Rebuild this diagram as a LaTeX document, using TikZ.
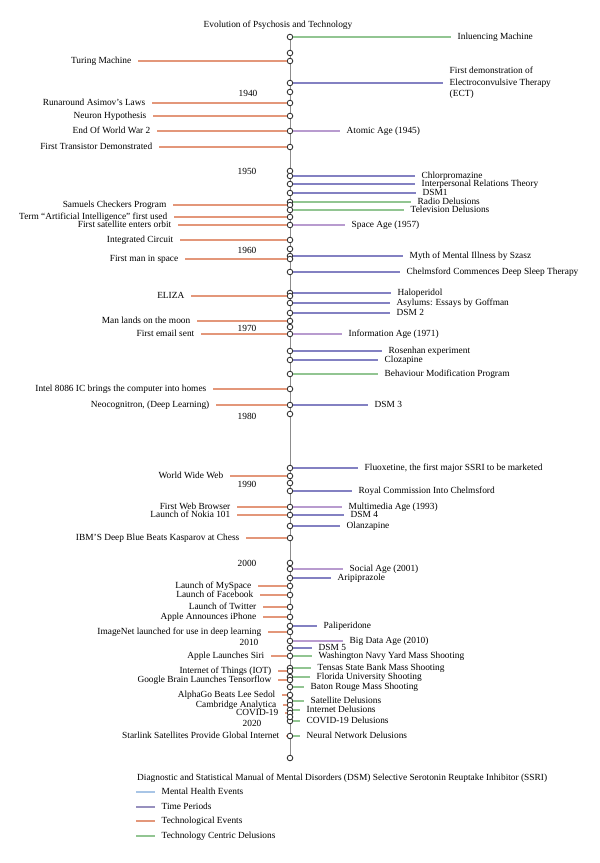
\documentclass[tikz,border=0pt]{standalone}
\usepackage{fontspec}
\setmainfont{Liberation Serif}
\definecolor{cOrange}{HTML}{E3977A}
\definecolor{cMH}{HTML}{8381C2}
\definecolor{cTP}{HTML}{B89BCF}
\definecolor{cGreen}{HTML}{92C592}
\definecolor{cLegBlue}{HTML}{A8C5E6}
\definecolor{cLegPurple}{HTML}{9790BE}
\tikzset{
  dot/.style={circle,draw=black!80,fill=white,line width=0.85bp,minimum size=5.6bp,inner sep=0pt},
  axisline/.style={draw=black!45,line width=0.7bp},
  lab/.style={font=\fontsize{9.4}{11}\selectfont,inner xsep=6.5bp,inner ysep=0pt,text height=6.5pt,text depth=2pt},
  yearlab/.style={font=\fontsize{9.4}{11}\selectfont,inner sep=0pt},
  evte/.style={draw=cOrange,line width=1.5bp},
  evmh/.style={draw=cMH,line width=1.5bp},
  evtp/.style={draw=cTP,line width=1.5bp},
  evtc/.style={draw=cGreen,line width=1.5bp},
}
\begin{document}
\begin{tikzpicture}[x=1bp,y=-1bp]
\useasboundingbox (0,0) rectangle (600,863);
\node[yearlab] (title) at (278,25) {Evolution of Psychosis and Technology};
\coordinate (axtop) at (290,37);
\coordinate (axbot) at (290,758);
\draw[axisline] (axtop) -- (axbot);
% circles on the axis
\foreach \i/\y in {0/37,1/53,2/61,3/83,4/92,5/103,6/116,7/131,8/147,9/171,10/176,11/184,12/193,13/202,14/205,15/210,16/217,17/225,18/240,19/249,20/256,21/259,22/272,23/293,24/296,25/303,26/313,27/321,28/327,29/334,30/351,31/360,32/374,33/389,34/405,35/414,36/468,37/476,38/483,39/491,40/507,41/515,42/526,43/538,44/563,45/569,46/578,47/586,48/595,49/607,50/617,51/626,52/632,53/641,54/648,55/656,56/668,57/671,58/677,59/680,60/687,61/695,62/701,63/705,64/710,65/713,66/721,67/717,68/736,69/758}
  \node[dot] (c\i) at (290,\y) {};
% year labels
\foreach \i/\x/\y/\t in {4/248/93/1940,9/247/171/1950,19/247/250/1960,28/247/328/1970,35/247/416/1980,38/247/484/1990,44/247/563/2000,53/249/642/2010,67/252/723/2020}
  \node[yearlab] (yr\i) at (\x,\y) {\t};
% technological events (left)
\foreach \i/\y/\x/\t in {2/61/138/Turing Machine,5/103/152/Runaround Asimov’s Laws,6/116/153/Neuron Hypothesis,7/131/157/End Of World War 2,8/147/159/First Transistor Demonstrated,14/205/173/Samuels Checkers Program,16/217/174/Term “Artificial Intelligence” first used,17/225/178/First satellite enters orbit,18/240/180/Integrated Circuit,21/259/185/First man in space,24/296/191/ELIZA,27/321/197/Man lands on the moon,29/334/201/First email sent,33/389/213/Intel 8086 IC brings the computer into homes,34/405/216/{Neocognitron, (Deep Learning)},37/476/230/World Wide Web,40/507/237/First Web Browser,41/515/237/Launch of Nokia 101,43/538/246/IBM’S Deep Blue Beats Kasparov at Chess,47/586/258/Launch of MySpace,48/595/260/Launch of Facebook,49/607/263/Launch of Twitter,50/617/263/Apple Announces iPhone,52/632/268/ImageNet launched for use in deep learning,55/656/271/Apple Launches Siri,57/671/278/Internet of Things (IOT),59/680/278/Google Brain Launches Tensorflow,61/695/282/AlphaGo Beats Lee Sedol,63/705/283/Cambridge Analytica,65/713/285/COVID-19,68/736/286/Starlink Satellites Provide Global Internet}
{
  \node[lab,anchor=east] (l\i) at (\x,\y) {\t};
  \draw[evte] (l\i.east) -- (c\i);
}
% right side events
\foreach \i/\y/\x/\t/\s in {0/37/451/Inluencing Machine/evtc,7/131/340/Atomic Age (1945)/evtp,10/176/415/Chlorpromazine/evmh,11/184/415/Interpersonal Relations Theory/evmh,12/193/416/DSM1/evmh,13/202/411/Radio Delusions/evtc,15/210/404/Television Delusions/evtc,17/225/345/Space Age (1957)/evtp,20/256/403/Myth of Mental Illness by Szasz/evmh,22/272/400/Chelmsford Commences Deep Sleep Therapy/evmh,23/293/391/Haloperidol/evmh,25/303/390/Asylums: Essays by Goffman/evmh,26/313/390/DSM 2/evmh,29/334/342/Information Age (1971)/evtp,30/351/382/Rosenhan experiment/evmh,31/360/378/Clozapine/evmh,32/374/378/Behaviour Modification Program/evtc,34/405/368/DSM 3/evmh,36/468/358/{Fluoxetine, the first major SSRI to be marketed}/evmh,39/491/352/Royal Commission Into Chelmsford/evmh,40/507/342/Multimedia Age (1993)/evtp,41/515/344/DSM 4/evmh,42/526/340/Olanzapine/evmh,45/569/343/Social Age (2001)/evtp,46/578/331/Aripiprazole/evmh,51/626/317/Paliperidone/evmh,53/641/343/Big Data Age (2010)/evtp,54/648/312/DSM 5/evmh,55/656/312/Washington Navy Yard Mass Shooting/evtc,56/668/311/Tensas State Bank Mass Shooting/evtc,58/677/310/Florida University Shooting/evtc,60/687/304/Baton Rouge Mass Shooting/evtc,62/701/304/Satellite Delusions/evtc,64/710/300/Internet Delusions/evtc,66/721/300/COVID-19 Delusions/evtc,68/736/300/Neural Network Delusions/evtc}
{
  \node[lab,anchor=west] (r\i) at (\x,\y) {\t};
  \draw[\s] (c\i) -- (r\i.west);
}
% ECT (three lines)
\node[font=\fontsize{9.4}{11.6}\selectfont,align=left,anchor=west,inner xsep=6.5bp,inner ysep=0pt] (r3) at (443,83) {First demonstration of\\Electroconvulsive Therapy\\(ECT)};
\draw[evmh] (c3) -- (r3.west);
% legend
\node[yearlab,anchor=west] (legtitle) at (137,778) {Diagnostic and Statistical Manual of Mental Disorders (DSM) Selective Serotonin Reuptake Inhibitor (SSRI)};
\foreach \k/\y/\t/\col in {1/792/Mental Health Events/cLegBlue,2/807/Time Periods/cLegPurple,3/821/Technological Events/cOrange,4/836/Technology Centric Delusions/cGreen}
{
  \coordinate (k\k) at (136,\y);
  \node[lab,anchor=west] (m\k) at (155,\y) {\t};
  \draw[draw=\col,line width=1.5bp] (k\k) -- (m\k.west);
}
\end{tikzpicture}
\end{document}
